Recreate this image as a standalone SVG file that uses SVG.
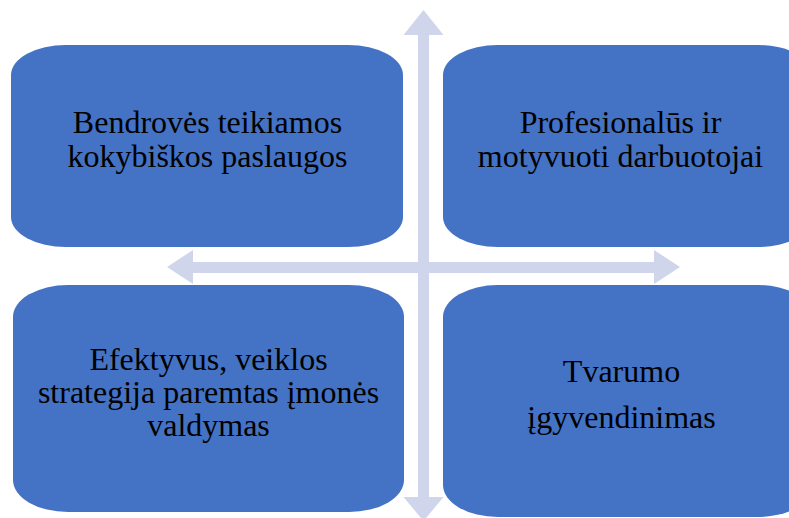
<svg xmlns="http://www.w3.org/2000/svg" width="789" height="518" viewBox="0 0 789 518">
  <style>
    .box { fill: #4472C4; }
    .arrow { fill: #CFD5EA; }
    .lbl { font-family: "Liberation Serif", "Times New Roman", serif; font-size: 32px; fill: #000000; text-anchor: middle; }
  </style>
  <rect width="789" height="518" fill="#FFFFFF"/>
  <g id="connectors">
    <polygon class="arrow" points="423.5,10 443.5,35 429,35 429,497 443.5,497 423.5,521 403.5,497 418,497 418,35 403.5,35"/>
    <polygon class="arrow" points="167,267 193,250 193,262 654,262 654,250 680,267 654,284 654,273 193,273 193,284"/>
  </g>
  <g id="node-top-left">
    <rect class="box" x="11" y="45" width="392" height="202" rx="55" ry="30"/>
    <text class="lbl" x="207.5" y="133">Bendrovės teikiamos</text>
    <text class="lbl" x="207.5" y="167">kokybiškos paslaugos</text>
  </g>
  <g id="node-top-right">
    <rect class="box" x="443" y="45" width="370" height="202" rx="55" ry="30"/>
    <text class="lbl" x="620.5" y="133">Profesionalūs ir</text>
    <text class="lbl" x="620.5" y="167">motyvuoti darbuotojai</text>
  </g>
  <g id="node-bottom-left">
    <rect class="box" x="13" y="285" width="391" height="227" rx="55" ry="32"/>
    <text class="lbl" x="208.5" y="370">Efektyvus, veiklos</text>
    <text class="lbl" x="208.5" y="403">strategija paremtas įmonės</text>
    <text class="lbl" x="208.5" y="436">valdymas</text>
  </g>
  <g id="node-bottom-right">
    <rect class="box" x="443" y="285" width="370" height="232" rx="55" ry="32"/>
    <text class="lbl" x="621.5" y="382">Tvarumo</text>
    <text class="lbl" x="621.5" y="428">įgyvendinimas</text>
  </g>
</svg>
